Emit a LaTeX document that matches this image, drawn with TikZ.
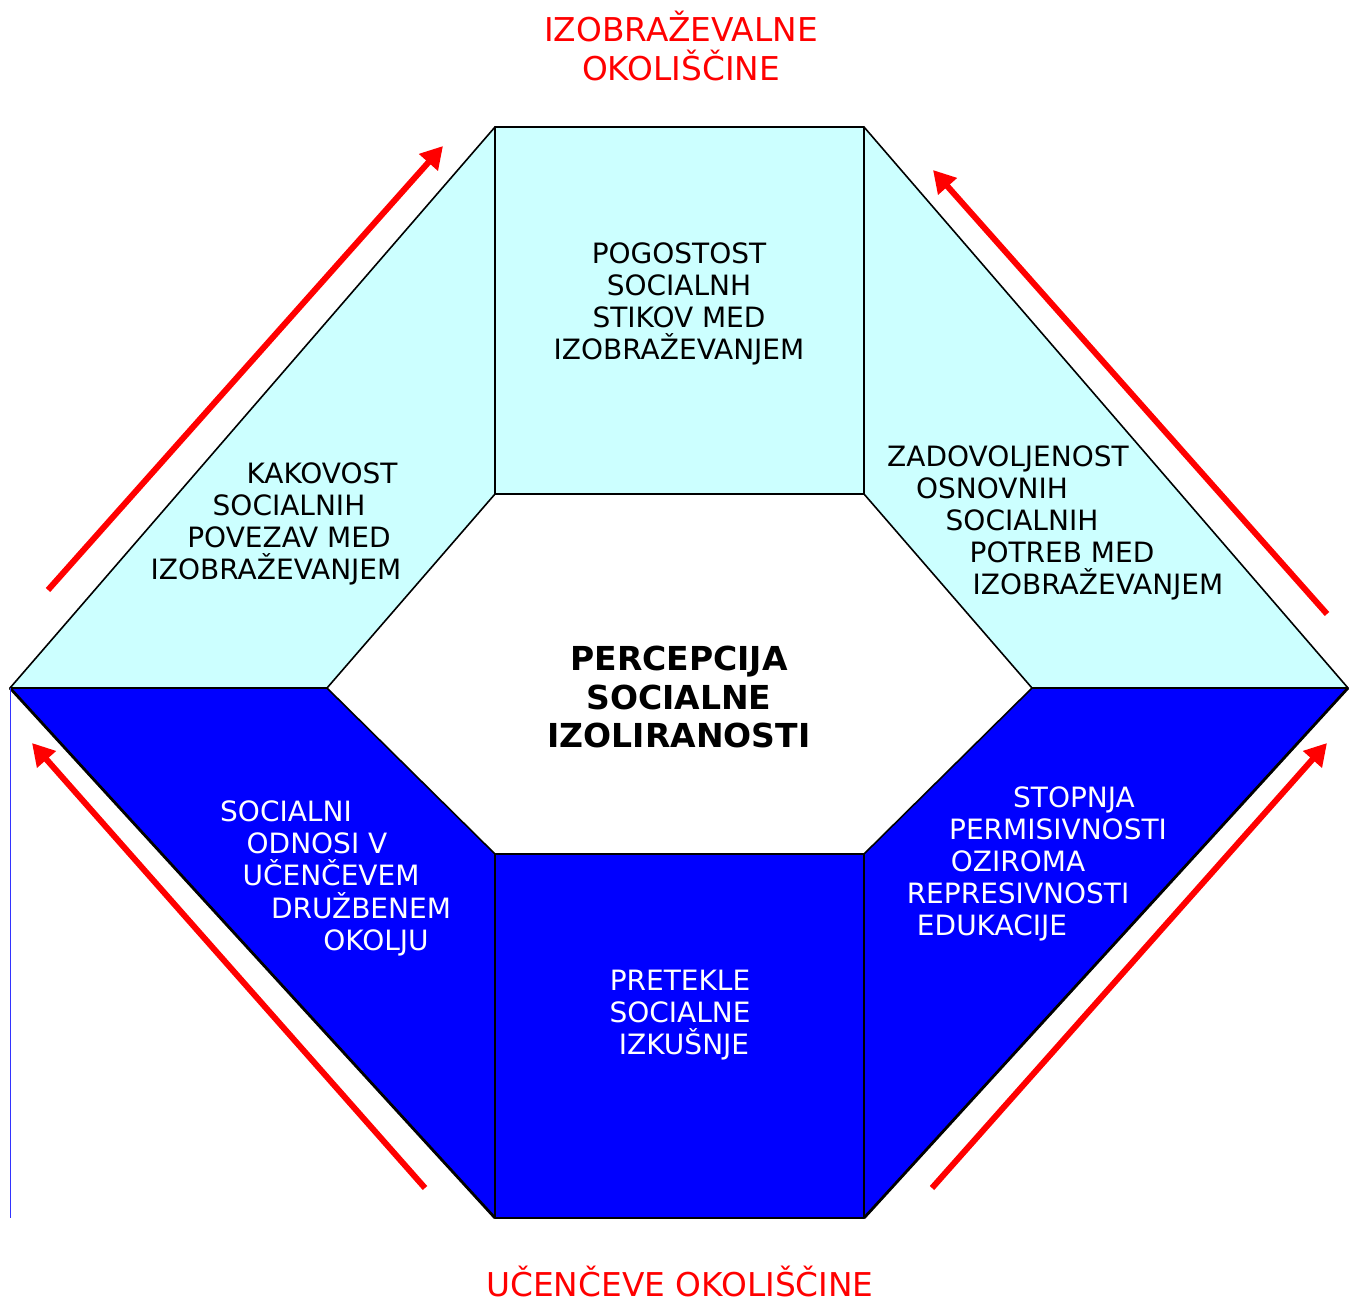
\documentclass[tikz,border=0pt]{standalone}
\usepackage{fontspec}
\setmainfont{DejaVu Sans}
\usetikzlibrary{arrows.meta}
\definecolor{panelcyan}{RGB}{204,255,255}
\definecolor{panelblue}{RGB}{0,0,255}
\tikzstyle{upper} = [fill=panelcyan, draw=black, line width=0.8pt, line join=round]
\tikzstyle{lower} = [fill=panelblue, draw=black, line width=0.8pt, line join=round]
\tikzstyle{dark} = [anchor=base, inner sep=0pt, text=black, font=\fontsize{14}{16}\selectfont]
\tikzstyle{light} = [anchor=base, inner sep=0pt, text=white, font=\fontsize{14}{16}\selectfont]
\tikzstyle{core} = [anchor=base, inner sep=0pt, text=black, font=\fontsize{16.5}{19}\selectfont\bfseries]
\tikzstyle{outside} = [anchor=base, inner sep=0pt, text=red, font=\fontsize{16.4}{19.5}\selectfont]
\tikzstyle{arrow} = [red, line width=3pt, -{Triangle[length=11pt,width=12pt]}]

\begin{document}
\begin{tikzpicture}[x=0.5pt,y=-0.5pt]
\useasboundingbox (0,0) rectangle (1354,1301);

% corners of the frame
\coordinate (oTL) at (495,127);
\coordinate (oTR) at (864,127);
\coordinate (oR) at (1348,688);
\coordinate (oBR) at (864,1218);
\coordinate (oBL) at (495,1218);
\coordinate (oL) at (10,688);
\coordinate (iTL) at (495,494);
\coordinate (iTR) at (864,494);
\coordinate (iR) at (1032,688);
\coordinate (iBR) at (864,854);
\coordinate (iBL) at (495,854);
\coordinate (iL) at (327,688);

% panels
\draw[upper] (oTL) -- (oTR) -- (iTR) -- (iTL) -- cycle;
\draw[upper] (oTL) -- (iTL) -- (iL) -- (oL) -- cycle;
\draw[upper] (oTR) -- (oR) -- (iR) -- (iTR) -- cycle;
\draw[lower] (oL) -- (iL) -- (iBL) -- (oBL) -- cycle;
\draw[lower] (iBL) -- (iBR) -- (oBR) -- (oBL) -- cycle;
\draw[lower] (iR) -- (oR) -- (oBR) -- (iBR) -- cycle;
\draw[black, line width=1.4pt] (oL) -- (oBL);
\draw[black, line width=1.4pt] (oR) -- (oBR);
\coordinate (edgeBottom) at (10,1218);
\draw[panelblue!80, line width=0.5pt] (oL) -- (edgeBottom);

% upper texts
\node (kakovostA)[dark] at (322,483) {KAKOVOST};
\node (kakovostB)[dark] at (289,515) {SOCIALNIH};
\node (kakovostC)[dark] at (289,547) {POVEZAV MED};
\node (kakovostD)[dark] at (276,579) {IZOBRAŽEVANJEM};

\node (pogostostA)[dark] at (679,263) {POGOSTOST};
\node (pogostostB)[dark] at (679,295) {SOCIALNH};
\node (pogostostC)[dark] at (679,327) {STIKOV MED};
\node (pogostostD)[dark] at (679,359) {IZOBRAŽEVANJEM};

\node (zadovoljA)[dark] at (1008,466) {ZADOVOLJENOST};
\node (zadovoljB)[dark] at (992,498) {OSNOVNIH};
\node (zadovoljC)[dark] at (1022,530) {SOCIALNIH};
\node (zadovoljD)[dark] at (1062,562) {POTREB MED};
\node (zadovoljE)[dark] at (1098,594) {IZOBRAŽEVANJEM};

% centre
\node (percepA)[core] at (679,670) {PERCEPCIJA};
\node (percepB)[core] at (679,709) {SOCIALNE};
\node (percepC)[core] at (679,747) {IZOLIRANOSTI};

% lower texts
\node (odnosiA)[light] at (286,821) {SOCIALNI};
\node (odnosiB)[light] at (317,853) {ODNOSI V};
\node (odnosiC)[light] at (331,885) {UČENČEVEM};
\node (odnosiD)[light] at (361,918) {DRUŽBENEM};
\node (odnosiE)[light] at (376,950) {OKOLJU};

\node (izkusnjeA)[light] at (680,990) {PRETEKLE};
\node (izkusnjeB)[light] at (680,1022) {SOCIALNE};
\node (izkusnjeC)[light] at (684,1054) {IZKUŠNJE};

\node (stopnjaA)[light] at (1074,807) {STOPNJA};
\node (stopnjaB)[light] at (1058,839) {PERMISIVNOSTI};
\node (stopnjaC)[light] at (1018,871) {OZIROMA};
\node (stopnjaD)[light] at (1018,903) {REPRESIVNOSTI};
\node (stopnjaE)[light] at (992,935) {EDUKACIJE};

% surroundings
\node (izobrazA)[outside] at (681,41) {IZOBRAŽEVALNE};
\node (izobrazB)[outside] at (681,80) {OKOLIŠČINE};
\node (ucenec)[outside] at (680,1296) {UČENČEVE OKOLIŠČINE};

% arrows
\coordinate (ulTail) at (48,590);
\coordinate (ulTip) at (443,146);
\coordinate (urTail) at (1327,614);
\coordinate (urTip) at (933,170);
\coordinate (llTail) at (425,1188);
\coordinate (llTip) at (32,743);
\coordinate (lrTail) at (932,1188);
\coordinate (lrTip) at (1327,743);
\draw [arrow](ulTail) -- (ulTip);
\draw [arrow](urTail) -- (urTip);
\draw [arrow](llTail) -- (llTip);
\draw [arrow](lrTail) -- (lrTip);
\end{tikzpicture}
\end{document}
